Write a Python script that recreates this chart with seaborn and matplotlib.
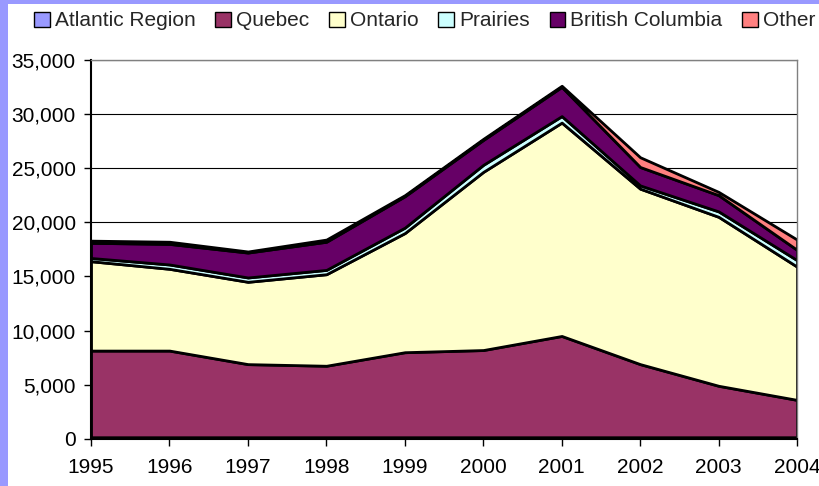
import numpy as np
import pandas as pd
import seaborn as sns
import matplotlib
matplotlib.use("Agg")
import matplotlib.pyplot as plt
from matplotlib.patches import Patch, Rectangle
from matplotlib.ticker import FuncFormatter, MultipleLocator

years = [1995, 1996, 1997, 1998, 1999, 2000, 2001, 2002, 2003, 2004]
regions = ["Atlantic Region", "Quebec", "Ontario", "Prairies", "British Columbia", "Other"]

atlantic = [150, 150, 150, 150, 150, 150, 150, 150, 150, 150]
quebec = [8000, 8000, 6750, 6600, 7850, 8050, 9350, 6750, 4750, 3450]
ontario = [8250, 7550, 7600, 8450, 11000, 16450, 19700, 16200, 15600, 12300]
prairies = [300, 400, 400, 400, 500, 650, 600, 300, 500, 600]
british_columbia = [1400, 1900, 2300, 2600, 2900, 2300, 2700, 1700, 1500, 950]
other = [200, 200, 100, 200, 100, 100, 100, 900, 300, 950]

colors = ["#9999FF", "#993366", "#FFFFCC", "#CCFFFF", "#660066", "#FF8080"]

df = pd.DataFrame({
    "Atlantic Region": atlantic,
    "Quebec": quebec,
    "Ontario": ontario,
    "Prairies": prairies,
    "British Columbia": british_columbia,
    "Other": other,
}, index=years)

sns.set_theme(style="white")
plt.rcParams["font.family"] = ["Liberation Sans", "DejaVu Sans"]

fig = plt.figure(figsize=(8.2, 4.86), dpi=100)
ax = fig.add_axes([0.111, 0.097, 0.861, 0.780])

ax.stackplot(df.index, [df[r] for r in regions], colors=colors,
             edgecolor="black", linewidth=2)

ax.set_xlim(years[0], years[-1])
ax.set_ylim(0, 35000)
ax.yaxis.set_major_locator(MultipleLocator(5000))
ax.yaxis.set_major_formatter(FuncFormatter(lambda v, p: f"{int(v):,}"))
ax.set_xticks(years)
ax.set_xticklabels([str(y) for y in years])
ax.grid(axis="y", color="black", linewidth=0.8)
ax.set_axisbelow(True)

for s in ["left", "bottom"]:
    ax.spines[s].set_color("black")
    ax.spines[s].set_linewidth(1.5)
for s in ["top", "right"]:
    ax.spines[s].set_color("#808080")
    ax.spines[s].set_linewidth(1)

ax.tick_params(axis="both", labelsize=15, colors="black", direction="out",
               length=5, width=1, left=True, bottom=True, pad=6)
ax.tick_params(axis="x", pad=9)

handles = [Patch(facecolor=c, edgecolor="black", linewidth=1) for c in colors]
fig.legend(handles, regions, loc="center", bbox_to_anchor=(0.518, 0.957),
           ncol=6, frameon=False, fontsize=15, handlelength=0.75,
           handleheight=0.75, handletextpad=0.25, columnspacing=0.95)

fig.add_artist(Rectangle((0, 0), 8 / 820, 1, transform=fig.transFigure,
                         facecolor="#9999FF", edgecolor="none"))
fig.add_artist(Rectangle((0, 1 - 4 / 486), 1, 4 / 486, transform=fig.transFigure,
                         facecolor="#9999FF", edgecolor="none"))

fig.savefig("out.png", dpi=100)
